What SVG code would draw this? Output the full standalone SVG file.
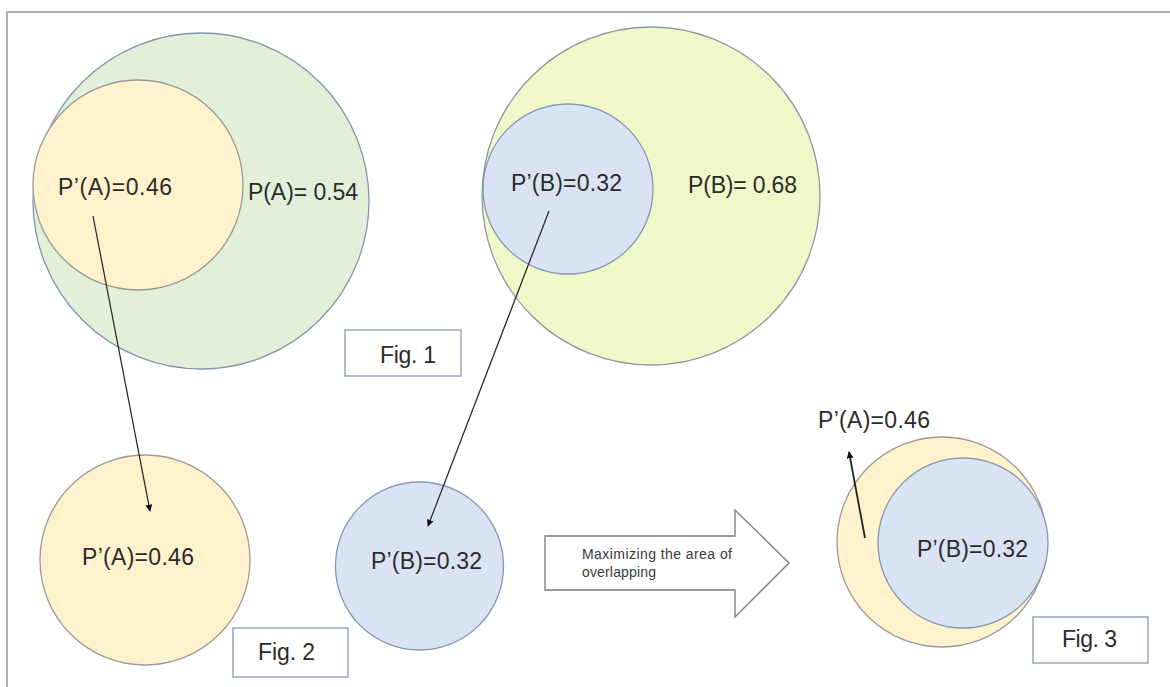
<svg xmlns="http://www.w3.org/2000/svg" width="1170" height="687" viewBox="0 0 1170 687">
<defs>
<style>
.lbl{font-family:"Liberation Sans",Arial,sans-serif;font-size:23px;fill:#2b2b2b}
.small{font-family:"Liberation Sans",Arial,sans-serif;font-size:14px;fill:#3a3a3a}
.figbox{fill:#ffffff;stroke:#98a6b8;stroke-width:1.5}
.green{fill:#e2efd9;stroke:#8496aa;stroke-width:1.3}
.lime{fill:#f0f7c8;stroke:#8e9aa0;stroke-width:1.3}
.yellow{fill:#fff2cc;stroke:#9a9a9a;stroke-width:1.3}
.blue{fill:#dae3f3;stroke:#8496b0;stroke-width:1.3}
.conn{stroke:#222222;stroke-width:1.2;fill:none;marker-end:url(#ah)}
</style>
<marker id="ah" viewBox="0 0 10 10" refX="9" refY="5" markerWidth="7" markerHeight="7" markerUnits="userSpaceOnUse" orient="auto">
<path d="M0,0 L10,5 L0,10 z" fill="#111111"/>
</marker>
</defs>
<rect width="1170" height="687" fill="#ffffff"/>
<g id="frame"><path d="M7,687 L7,12 L1170,12" fill="none" stroke="#a9b0b6" stroke-width="2"/></g>

<g id="fig1-A">
<circle class="green" cx="201" cy="201" r="168"/>
<text class="lbl" x="248" y="200" textLength="110">P(A)= 0.54</text>
</g>
<g id="fig1-A-prime">
<circle class="yellow" cx="138" cy="185" r="105"/>
<text class="lbl" x="58" y="195" textLength="114">P’(A)=0.46</text>
</g>
<g id="fig1-B">
<circle class="lime" cx="651" cy="196" r="169"/>
<text class="lbl" x="688" y="193" textLength="109">P(B)= 0.68</text>
</g>
<g id="fig1-B-prime">
<circle class="blue" cx="568" cy="189" r="85"/>
<text class="lbl" x="511" y="191" textLength="111">P’(B)=0.32</text>
</g>
<g id="fig1-label">
<rect class="figbox" x="345" y="330" width="116" height="46"/>
<text class="lbl" x="380" y="363" textLength="56">Fig. 1</text>
</g>

<g id="fig2-A">
<circle class="yellow" cx="145" cy="560" r="105"/>
<text class="lbl" x="82" y="565" textLength="112">P’(A)=0.46</text>
</g>
<g id="fig2-B">
<circle class="blue" cx="419.5" cy="566" r="84"/>
<text class="lbl" x="371" y="569" textLength="111">P’(B)=0.32</text>
</g>
<g id="fig2-label">
<rect class="figbox" x="233" y="628" width="115" height="49"/>
<text class="lbl" x="258" y="660" textLength="57">Fig. 2</text>
</g>

<g id="block-arrow">
<polygon points="545,536 735,536 735,510 789,563 735,617 735,590 545,590" fill="#ffffff" stroke="#7a7a7a" stroke-width="1.3"/>
<text class="small" x="582" y="559" textLength="150">Maximizing the area of</text>
<text class="small" x="582" y="577" textLength="74">overlapping</text>
</g>

<g id="fig3-A">
<circle class="yellow" cx="942" cy="542" r="105"/>
<text class="lbl" x="818" y="428" textLength="112">P’(A)=0.46</text>
</g>
<g id="fig3-B">
<circle class="blue" cx="963" cy="543" r="85"/>
<text class="lbl" x="917" y="557" textLength="111">P’(B)=0.32</text>
</g>
<g id="fig3-label">
<rect class="figbox" x="1033" y="617" width="115" height="46"/>
<text class="lbl" x="1062" y="647" textLength="55">Fig. 3</text>
</g>

<g id="connectors">
<line class="conn" x1="93" y1="216" x2="150" y2="511"/>
<line class="conn" x1="549" y1="211" x2="428" y2="526"/>
<line class="conn" x1="865" y1="538" x2="849" y2="452" style="stroke-width:1.8"/>
</g>
</svg>
